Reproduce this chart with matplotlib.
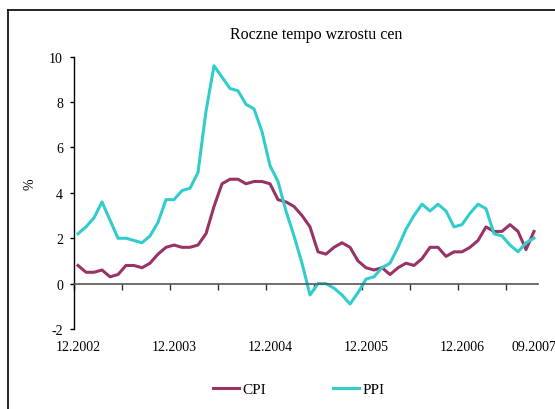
import matplotlib
matplotlib.use("Agg")
import matplotlib.pyplot as plt
from matplotlib.lines import Line2D

plt.rcParams["font.family"] = ["Liberation Serif", "DejaVu Serif"]
plt.rcParams["axes.unicode_minus"] = False

# monthly data 12.2002 - 09.2007, y/y change in %
cpi = [0.8, 0.5, 0.5, 0.6, 0.3, 0.4, 0.8, 0.8, 0.7, 0.9, 1.3, 1.6,
       1.7, 1.6, 1.6, 1.7, 2.2, 3.4, 4.4, 4.6, 4.6, 4.4, 4.5, 4.5,
       4.4, 3.7, 3.6, 3.4, 3.0, 2.5, 1.4, 1.3, 1.6, 1.8, 1.6, 1.0,
       0.7, 0.6, 0.7, 0.4, 0.7, 0.9, 0.8, 1.1, 1.6, 1.6, 1.2, 1.4,
       1.4, 1.6, 1.9, 2.5, 2.3, 2.3, 2.6, 2.3, 1.5, 2.3]
ppi = [2.2, 2.5, 2.9, 3.6, 2.8, 2.0, 2.0, 1.9, 1.8, 2.1, 2.7, 3.7,
       3.7, 4.1, 4.2, 4.9, 7.6, 9.6, 9.1, 8.6, 8.5, 7.9, 7.7, 6.7,
       5.2, 4.5, 3.2, 2.1, 0.9, -0.5, 0.0, 0.0, -0.2, -0.5, -0.9, -0.4,
       0.2, 0.3, 0.7, 0.9, 1.6, 2.4, 3.0, 3.5, 3.2, 3.5, 3.2, 2.5,
       2.6, 3.1, 3.5, 3.3, 2.2, 2.1, 1.7, 1.4, 1.8, 2.0]
label_pos = [0, 12, 24, 36, 48, 57]
label_txt = ["12.2002", "12.2003", "12.2004", "12.2005", "12.2006", "09.2007"]

cpi_color = "#993366"
ppi_color = "#33CCCC"

fig = plt.figure(figsize=(5.55, 4.10), dpi=100)
ax = fig.add_axes([74 / 555, 80 / 410, 464 / 555, 272.3 / 410])

x = list(range(len(cpi)))
ax.plot(x, cpi, color=cpi_color, lw=2.2, label="CPI", solid_joinstyle="round")
ax.plot(x, ppi, color=ppi_color, lw=2.2, label="PPI", solid_joinstyle="round")

ax.set_xlim(-0.5, len(cpi) - 0.5)
ax.set_ylim(-2, 10)
ax.set_yticks(range(-2, 11, 2))
ax.tick_params(axis="y", direction="out", length=3, width=1, pad=5, labelsize=10)

# category axis crossing at zero, tick marks every 6 months
ax.spines["bottom"].set_position(("data", 0))
ax.spines["bottom"].set_color("#555555")
ax.spines["bottom"].set_linewidth(1.2)
ax.spines["left"].set_linewidth(1.0)
ax.spines["top"].set_visible(False)
ax.spines["right"].set_visible(False)
ax.set_xticks([-0.5 + 6 * k for k in range(10)])
ax.set_xticklabels([])
ax.tick_params(axis="x", direction="out", length=4, width=1, color="#333333")

# labels at the bottom of the plot
sec = ax.secondary_xaxis(0)
sec.spines["bottom"].set_visible(False)
sec.set_xticks(label_pos)
sec.set_xticklabels(label_txt)
sec.tick_params(length=0, pad=8, labelsize=10)

ax.set_ylabel("%", fontsize=10)
ax.yaxis.set_label_coords(-37 / 464, 0.536)

fig.text(316 / 555, 1 - 35 / 410, "Roczne tempo wzrostu cen", ha="center",
         va="center", fontsize=11.5)

fig.legend(loc="center", bbox_to_anchor=(299 / 555, 20 / 410), ncol=2,
           frameon=False, fontsize=11, handlelength=1.7, handletextpad=0.2,
           columnspacing=4.4)

# outer frame (cut on the right and bottom)
fig.add_artist(Line2D([8 / 555, 8 / 555], [0, 1 - 11 / 410], color="black",
                      lw=1.2, transform=fig.transFigure))
fig.add_artist(Line2D([8 / 555, 1], [1 - 11 / 410, 1 - 11 / 410], color="black",
                      lw=1.2, transform=fig.transFigure))

fig.savefig("out.png", dpi=100)
